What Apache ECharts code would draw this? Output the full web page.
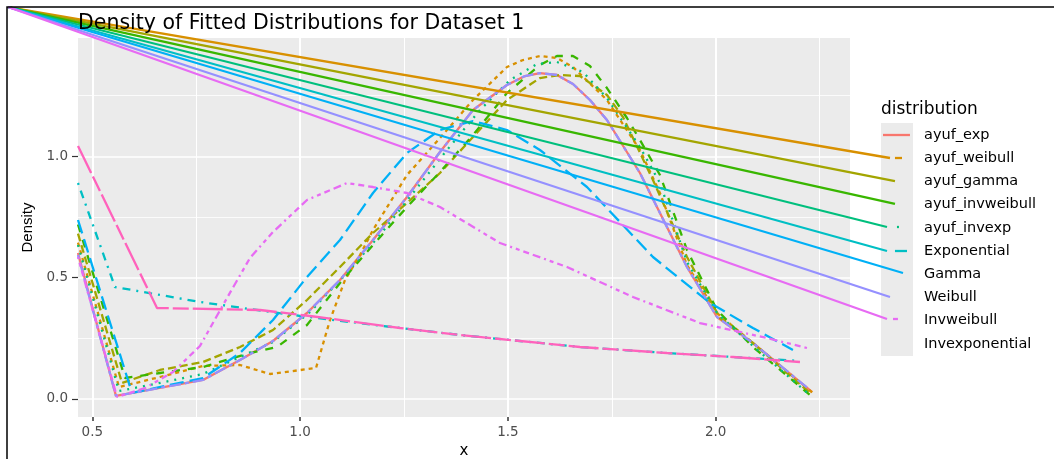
<!DOCTYPE html>
<html><head><meta charset="utf-8">
<script src="https://cdn.jsdelivr.net/npm/echarts@6/dist/echarts.min.js"></script>
<style>html,body{margin:0;padding:0;background:#fff}#c{width:1054px;height:459px}</style>
</head><body><div id="c"></div>
<script>
// ---- categories / styles ----
const distributions = ['ayuf_exp','ayuf_weibull','ayuf_gamma','ayuf_invweibull','ayuf_invexp','Exponential','Gamma','Weibull','Invweibull','Invexponential'];
const colors = ['#F8766D','#D89000','#A3A500','#39B600','#00BF7D','#00BFC4','#00B0F6','#9590FF','#E76BF3','#FF62BC'];
const dashes = ['solid',[4,4],[8,4],[8,8],[2,6],[2,6,8,6],[14,6],[4,4,12,4],[2,4,4,4,6,4,8,4],[30,4,16,4]];

// ---- axis ticks ----
const xMajorTicks = [0.5, 1.0, 1.5, 2.0];
const xMinorTicks = [0.75, 1.25, 1.75, 2.25];
const yMajorTicks = [0.0, 0.5, 1.0];
const yMinorTicks = [0.25, 0.75, 1.25];
const xRange = [0.4656, 2.3232];
const yRange = [-0.0742, 1.4875];

// ---- density curves [x, density] ----
const ayuf_exp = [[0.4656,0.6016],[0.5570,0.0124],[0.7664,0.0783],[0.8554,0.1607],[0.9348,0.2390],[1.0166,0.3543],[1.0960,0.4903],[1.1754,0.6551],[1.2572,0.8323],[1.3366,1.0177],[1.4160,1.1908],[1.4978,1.2938],[1.5412,1.3309],[1.5772,1.3432],[1.6181,1.3350],[1.6566,1.2979],[1.6975,1.2320],[1.7384,1.1496],[1.8178,0.9312],[1.8659,0.7664],[1.9310,0.5439],[2.0031,0.3379],[2.0897,0.2307],[2.2316,0.0288]];
const ayuf_weibull = [[0.4656,0.6444],[0.5642,0.0494],[0.6629,0.0906],[0.7664,0.1360],[0.8554,0.1401],[0.9275,0.1030],[1.0383,0.1277],[1.0720,0.3255],[1.1081,0.4903],[1.1442,0.5933],[1.1754,0.6963],[1.2572,0.9230],[1.3366,1.0754],[1.4160,1.2320],[1.4978,1.3679],[1.5363,1.3968],[1.5772,1.4133],[1.6181,1.4050],[1.6566,1.3679],[1.7384,1.2320],[1.8178,1.0260],[1.8659,0.8488],[1.9310,0.5521],[2.0031,0.3543],[2.0897,0.2307],[2.2340,0.0247]];
const ayuf_gamma = [[0.4656,0.6815],[0.5715,0.0659],[0.6629,0.1195],[0.7664,0.1525],[0.8554,0.2143],[0.9348,0.2843],[1.0166,0.4079],[1.0960,0.5439],[1.1754,0.6840],[1.2572,0.8076],[1.3366,0.9312],[1.4160,1.0795],[1.4978,1.2320],[1.5772,1.3226],[1.6253,1.3350],[1.6735,1.3309],[1.7384,1.2526],[1.7769,1.1619],[1.8491,0.9024],[1.9310,0.5851],[2.0103,0.3337],[2.0897,0.2307],[2.2268,0.0247]];
const ayuf_invweibull = [[0.4656,0.7190],[0.5787,0.0865],[0.6629,0.1071],[0.7664,0.1319],[0.8794,0.1895],[0.9444,0.2143],[1.0166,0.3049],[1.0960,0.4780],[1.1754,0.6345],[1.2572,0.7911],[1.3366,0.9353],[1.4160,1.0878],[1.4978,1.2608],[1.5772,1.3762],[1.6181,1.4133],[1.6566,1.4133],[1.6975,1.3721],[1.7384,1.2814],[1.7866,1.1578],[1.8178,1.0672],[1.8659,0.9230],[1.9310,0.6139],[2.0031,0.3667],[2.0897,0.2143],[2.2268,0.0165]];
const ayuf_invexp = [[0.4656,0.6345],[0.5642,0.0330],[0.6388,0.0577],[0.7664,0.1030],[0.8554,0.1731],[0.9348,0.2349],[1.0238,0.3585],[1.1081,0.5109],[1.1923,0.6757],[1.2717,0.8488],[1.3535,1.0260],[1.4329,1.1908],[1.5051,1.3144],[1.5700,1.3803],[1.6181,1.3886],[1.6807,1.3473],[1.7384,1.2402],[1.8178,1.0383],[1.8659,0.8900],[1.9310,0.5645],[2.0031,0.3543],[2.0897,0.2184],[2.2268,0.0165]];
const exponential = [[0.4656,0.8900],[0.5546,0.4615],[0.7591,0.3997],[0.9998,0.3420],[1.2404,0.2925],[1.3847,0.2637],[1.6735,0.2143],[1.8828,0.1895],[2.0416,0.1731],[2.2028,0.1566]];
const gamma = [[0.4656,0.7375],[0.5955,0.0247],[0.7664,0.0865],[0.8554,0.1895],[0.9348,0.3255],[1.0166,0.5027],[1.0960,0.6551],[1.1754,0.8488],[1.2572,1.0136],[1.3366,1.1084],[1.4160,1.1455],[1.4978,1.1084],[1.5772,1.0260],[1.6903,0.8735],[1.8106,0.6551],[1.8491,0.5851],[1.9863,0.3956],[2.0897,0.2925],[2.1859,0.2019]];
const weibull = [[0.4656,0.5933],[0.5570,0.0124],[0.7664,0.0783],[0.8554,0.1607],[0.9348,0.2390],[1.0166,0.3543],[1.0960,0.4903],[1.1754,0.6551],[1.2572,0.8323],[1.3366,1.0177],[1.4160,1.1908],[1.4978,1.2938],[1.5412,1.3309],[1.5772,1.3432],[1.6181,1.3350],[1.6566,1.2979],[1.6975,1.2320],[1.7384,1.1496],[1.8178,0.9312],[1.8659,0.7664],[1.9310,0.5439],[2.0031,0.3379],[2.0897,0.2307],[2.2268,0.0371]];
const invweibull = [[0.4656,0.5851],[0.5594,0.0082],[0.6268,0.0453],[0.6942,0.1112],[0.7591,0.2184],[0.8241,0.4162],[0.8794,0.5810],[0.9348,0.6880],[1.0166,0.8200],[1.1129,0.8900],[1.1754,0.8735],[1.2572,0.8488],[1.3366,0.7911],[1.4810,0.6428],[1.6422,0.5439],[1.8010,0.4203],[1.9622,0.3131],[2.1234,0.2513],[2.2196,0.2101]];
const invexponential = [[0.4656,1.0425],[0.6557,0.3750],[0.9035,0.3667],[1.0238,0.3420],[1.2404,0.2925],[1.3847,0.2637],[1.6735,0.2143],[1.8828,0.1895],[2.0416,0.1731],[2.2028,0.1525]];
const curves = [ayuf_exp, ayuf_weibull, ayuf_gamma, ayuf_invweibull, ayuf_invexp, exponential, gamma, weibull, invweibull, invexponential];

// ---- stray key segments [x1, y1, x2, y2] (corner of the plot to the legend keys) ----
const keyOrigin = [0.2972, 1.6152];
const keySegments = {
  ayuf_exp:        [[2.4026,1.0878,2.4675,1.0878]],
  ayuf_weibull:    [[...keyOrigin,2.4194,0.9930],[2.4314,0.9930,2.4483,0.9930]],
  ayuf_gamma:      [[...keyOrigin,2.4314,0.8982]],
  ayuf_invweibull: [[...keyOrigin,2.4314,0.8035]],
  ayuf_invexp:     [[...keyOrigin,2.4122,0.7087],[2.4362,0.7087,2.4410,0.7087]],
  Exponential:     [[...keyOrigin,2.4122,0.6098],[2.4314,0.6098,2.4603,0.6098]],
  Gamma:           [[...keyOrigin,2.4507,0.5192]],
  Weibull:         [[...keyOrigin,2.4194,0.4203]],
  Invweibull:      [[...keyOrigin,2.4122,0.3296],[2.4266,0.3296,2.4386,0.3296]]
};

const FONT = 'DejaVu Sans';
const LW = 2.3;
const chart = echarts.init(document.getElementById('c'), null, {renderer:'canvas'});

const series = distributions.map((n, i) => ({
  type:'line', name:n, data:curves[i], symbol:'none', showSymbol:false, silent:true,
  lineStyle:{color:colors[i], width:LW, type:dashes[i], cap:'butt'},
  itemStyle:{color:colors[i]}, z:2
}));
distributions.forEach((n, i) => {
  if (!keySegments[n]) return;
  series.push({
    type:'custom', name:n, data:keySegments[n], silent:true, clip:false, z:3,
    dimensions:['x1','y1','x2','y2'],
    encode:{x:[0,2], y:[1,3]},
    itemStyle:{color:colors[i]},
    renderItem:(params, api) => {
      const p1 = api.coord([api.value(0), api.value(1)]);
      const p2 = api.coord([api.value(2), api.value(3)]);
      return {type:'line', shape:{x1:p1[0], y1:p1[1], x2:p2[0], y2:p2[1]},
              style:{stroke:colors[i], lineWidth:LW, fill:null}};
    }
  });
});

const noZero = {show:false, onZero:false};

chart.setOption({
  animation:false,
  backgroundColor:'#ffffff',
  title:[
    {text:'Density of Fitted Distributions for Dataset 1', left:78, top:13, padding:0,
     textStyle:{fontFamily:FONT, fontSize:20.5, fontWeight:'normal', color:'#000'}},
    {text:'distribution', left:881, top:101, padding:0,
     textStyle:{fontFamily:FONT, fontSize:17, fontWeight:'normal', color:'#000'}}
  ],
  legend:{
    orient:'vertical', left:883, top:127.5, padding:0, itemWidth:27, itemHeight:15, itemGap:8.2,
    selectedMode:false,
    data: distributions.map(n => ({name:n, icon:'none'})),
    textStyle:{fontFamily:FONT, fontSize:14.5, color:'#000', padding:[0,0,0,9]}
  },
  grid:{left:78, top:38, width:772, height:379, show:true, backgroundColor:'#EBEBEB', borderWidth:0, containLabel:false, outerBoundsMode:'none'},
  graphic:[
    {type:'rect', left:881, top:123, shape:{width:32, height:233}, style:{fill:'#EBEBEB'}, z:0},
    {type:'polyline', shape:{points:[[7,459],[7,7],[1054,7]]}, style:{stroke:'#000', lineWidth:1.5, fill:null}, z:10}
  ],
  xAxis:[
    {type:'value', min:xRange[0], max:xRange[1], position:'bottom', name:'x', nameLocation:'middle', nameGap:24,
     nameTextStyle:{fontFamily:FONT, fontSize:15, color:'#000'},
     axisLine:noZero,
     axisTick:{show:true, length:4, lineStyle:{color:'#333', width:1.5}, customValues:xMajorTicks},
     axisLabel:{customValues:xMajorTicks, formatter:v => v.toFixed(1), fontFamily:FONT, fontSize:13.5, color:'#4D4D4D', margin:8},
     splitLine:{show:true, lineStyle:{color:'#fff', width:2}}},
    {type:'value', min:xRange[0], max:xRange[1], position:'bottom',
     axisLine:noZero, axisTick:{show:false, customValues:xMinorTicks},
     axisLabel:{show:false, customValues:xMinorTicks},
     splitLine:{show:true, lineStyle:{color:'#fff', width:1}}}
  ],
  yAxis:[
    {type:'value', min:yRange[0], max:yRange[1], position:'left', name:'Density', nameLocation:'middle', nameGap:40,
     nameTextStyle:{fontFamily:'Liberation Sans', fontSize:15, color:'#000'},
     axisLine:noZero,
     axisTick:{show:true, length:6, lineStyle:{color:'#333', width:1.2}, customValues:yMajorTicks},
     axisLabel:{customValues:yMajorTicks, formatter:v => v.toFixed(1), fontFamily:FONT, fontSize:13.5, color:'#4D4D4D', margin:10},
     splitLine:{show:true, lineStyle:{color:'#fff', width:1.5}}},
    {type:'value', min:yRange[0], max:yRange[1], position:'left',
     axisLine:noZero, axisTick:{show:false, customValues:yMinorTicks},
     axisLabel:{show:false, customValues:yMinorTicks},
     splitLine:{show:true, lineStyle:{color:'#fff', width:0.8}}}
  ],
  series: series
});
</script></body></html>
